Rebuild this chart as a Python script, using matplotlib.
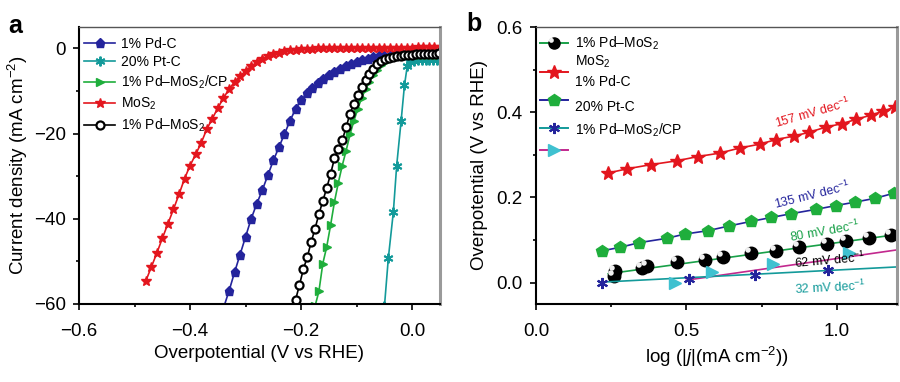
import numpy as np
import matplotlib
matplotlib.use('Agg')
import matplotlib.pyplot as plt
from matplotlib.ticker import MultipleLocator
from matplotlib.path import Path

plt.rcParams['font.family'] = ['Liberation Sans', 'DejaVu Sans']
plt.rcParams['mathtext.fontset'] = 'custom'
plt.rcParams['mathtext.rm'] = 'Liberation Sans'
plt.rcParams['mathtext.it'] = 'Liberation Sans:italic'
plt.rcParams['mathtext.bf'] = 'Liberation Sans:bold'

# ---------------- Panel a data: polarization curves ----------------
mos2_v = [-0.48, -0.47, -0.46, -0.45, -0.44, -0.43, -0.42, -0.41, -0.40, -0.39, -0.38, -0.37,
          -0.36, -0.35, -0.34, -0.33, -0.32, -0.31, -0.30, -0.29, -0.28, -0.27, -0.26, -0.25,
          -0.24, -0.23, -0.22, -0.21, -0.20, -0.19, -0.18, -0.17, -0.16, -0.15, -0.14, -0.13,
          -0.12, -0.11, -0.10, -0.09, -0.08, -0.07, -0.06, -0.05, -0.04, -0.03, -0.02, -0.01,
          0.00, 0.01, 0.02, 0.03, 0.04, 0.05]
mos2_j = [-54.7, -51.4, -48.1, -44.6, -41.2, -37.8, -34.3, -30.6, -27.5, -24.9, -22.2, -19.0,
          -16.5, -14.0, -11.7, -9.6, -7.9, -6.5, -5.3, -4.2, -3.3, -2.5, -1.9, -1.4,
          -1.0, -0.7, -0.45, -0.3, -0.2, -0.12, -0.06, -0.02, 0.0, 0.02, 0.04, 0.05,
          0.06, 0.07, 0.08, 0.09, 0.10, 0.10, 0.10, 0.10, 0.10, 0.12, 0.14, 0.16,
          0.18, 0.20, 0.22, 0.24, 0.26, 0.28]

pdc_v = [-0.34, -0.33, -0.32, -0.31, -0.30, -0.29, -0.28, -0.27, -0.26, -0.25, -0.24, -0.23,
         -0.22, -0.21, -0.20, -0.19, -0.18, -0.17, -0.16, -0.15, -0.14, -0.13, -0.12, -0.11,
         -0.10, -0.09, -0.08, -0.07, -0.06, -0.05, -0.04, -0.03, -0.02, -0.01, 0.00, 0.01,
         0.02, 0.03, 0.04, 0.05]
pdc_j = [-61.0, -57.0, -52.6, -48.4, -44.2, -40.0, -36.5, -33.3, -29.8, -26.3, -23.2, -20.1,
         -17.0, -14.2, -12.2, -10.6, -9.3, -8.1, -7.1, -6.3, -5.5, -4.8, -4.1, -3.6,
         -3.1, -2.7, -2.4, -2.1, -1.9, -1.8, -1.7, -1.6, -1.55, -1.5, -1.5, -1.45,
         -1.45, -1.4, -1.4, -1.4]

pdmos2_v = [-0.210, -0.203, -0.196, -0.189, -0.182, -0.175, -0.168, -0.161, -0.154, -0.147,
            -0.140, -0.133, -0.126, -0.119, -0.112, -0.105, -0.098, -0.091, -0.084, -0.077,
            -0.070, -0.063, -0.056, -0.049, -0.042, -0.035, -0.028, -0.021, -0.014, -0.007,
            0.000, 0.007, 0.014, 0.021, 0.028, 0.035, 0.042, 0.049]
pdmos2_j = [-59.0, -55.5, -51.8, -49.0, -45.5, -42.3, -38.9, -35.8, -32.8, -29.5,
            -25.8, -23.6, -21.6, -18.5, -15.3, -13.0, -10.9, -9.0, -7.4, -6.0,
            -4.8, -3.7, -3.0, -2.5, -2.2, -1.95, -1.8, -1.7, -1.6, -1.55,
            -1.5, -1.45, -1.4, -1.35, -1.3, -1.3, -1.25, -1.2]

cp_v = [-0.175, -0.168, -0.161, -0.154, -0.147, -0.140, -0.133, -0.126, -0.119, -0.112,
        -0.105, -0.098, -0.091, -0.084, -0.077, -0.070, -0.063, -0.056, -0.049, -0.042,
        -0.035, -0.028, -0.021, -0.014, -0.007, 0.000, 0.007, 0.014, 0.021, 0.028,
        0.035, 0.042, 0.049]
cp_j = [-60.5, -57.0, -50.5, -46.6, -41.5, -36.0, -31.5, -27.5, -24.0, -20.2,
        -17.0, -14.2, -11.6, -9.5, -7.8, -6.3, -5.0, -4.0, -3.2, -2.6,
        -2.2, -1.9, -1.75, -1.65, -1.6, -1.55, -1.5, -1.5, -1.5, -1.5,
        -1.5, -1.5, -1.5]

ptc_v = [-0.050, -0.043, -0.034, -0.028, -0.020, -0.014, -0.009, -0.004, 0.003, 0.010,
         0.017, 0.024, 0.031, 0.038, 0.045, 0.050]
ptc_j = [-60.5, -49.2, -38.4, -27.5, -17.0, -8.7, -4.2, -3.2, -2.9, -2.8,
         -2.8, -2.8, -2.8, -2.8, -2.75, -2.7]

# ---------------- Panel b data: Tafel plots ----------------
mos2_b_x = [0.238, 0.301, 0.382, 0.468, 0.538, 0.610, 0.677, 0.743, 0.799, 0.857, 0.908,
            0.963, 1.016, 1.063, 1.112, 1.152, 1.193]
mos2_b_y = [0.257, 0.267, 0.277, 0.286, 0.296, 0.304, 0.316, 0.325, 0.336, 0.344, 0.353,
            0.365, 0.373, 0.383, 0.393, 0.402, 0.412]
ptc_b_x = [0.221, 0.280, 0.343, 0.434, 0.494, 0.571, 0.641, 0.716, 0.782, 0.849, 0.930,
           0.997, 1.060, 1.127, 1.190]
ptc_b_y = [0.075, 0.083, 0.094, 0.104, 0.114, 0.122, 0.133, 0.144, 0.153, 0.162, 0.172,
           0.181, 0.189, 0.198, 0.210]
pdmos2_b_x = [0.258, 0.262, 0.352, 0.369, 0.469, 0.563, 0.621, 0.716, 0.799, 0.873, 0.966,
              1.032, 1.108, 1.180]
pdmos2_b_y = [0.016, 0.027, 0.035, 0.040, 0.048, 0.053, 0.061, 0.069, 0.075, 0.083, 0.091,
              0.099, 0.106, 0.112]
pdmos2_fit_x = [0.24, 1.20]
pdmos2_fit_y = [0.021, 0.113]
cp_b_x = [0.219, 0.509, 0.727, 0.971]
cp_b_y = [0.000, 0.009, 0.019, 0.030]
cp_fit_x = [0.21, 1.20]
cp_fit_y = [0.001, 0.037]
tri_b_x = [0.463, 0.586, 0.788, 1.041]
tri_b_y = [-0.001, 0.025, 0.044, 0.069]
tri_fit_x = [0.50, 1.20]
tri_fit_y = [0.006, 0.077]

legend_a_labels = ['1% Pd-C', '20% Pt-C', '1% Pd\u2013MoS$_2$/CP', 'MoS$_2$', '1% Pd\u2013MoS$_2$']
legend_b_labels = ['1% Pd\u2013MoS$_2$', 'MoS$_2$', '1% Pd-C', '20% Pt-C', '1% Pd\u2013MoS$_2$/CP']
slope_labels = ['157 mV dec$^{-1}$', '135 mV dec$^{-1}$', '80 mV dec$^{-1}$',
                '62 mV dec$^{-1}$', '32 mV dec$^{-1}$']

# colours
RED = '#e3161e'
NAVY = '#24249c'
TEAL = '#139a9a'
GREEN = '#1fae3c'
BGREEN = '#18a048'
MAGENTA = '#c2288e'
CYAN = '#3fc1d0'

ASTER = (6, 2, 0)
highlight = Path.circle(center=(-0.28, 0.28), radius=0.22)

fig = plt.figure(figsize=(9, 3.82), dpi=100)
axa = fig.add_axes([79 / 900, 78 / 382, 361 / 900, 277 / 382])
axb = fig.add_axes([536 / 900, 78 / 382, 361 / 900, 277 / 382])


def style(ax):
    for s in ['left', 'bottom']:
        ax.spines[s].set_linewidth(1.5)
        ax.spines[s].set_color('black')
    ax.spines['top'].set_linewidth(1.0)
    ax.spines['top'].set_color('#555555')
    ax.spines['right'].set_linewidth(2.2)
    ax.spines['right'].set_color('#9a9a9a')
    ax.tick_params(which='both', direction='out', top=False, right=False,
                   labelsize=13.5, width=1.2, color='black')
    ax.tick_params(which='major', length=4.5)
    ax.tick_params(which='minor', length=2.5)
    ax.tick_params(axis='x', which='major', pad=9)
    ax.tick_params(axis='y', which='major', pad=5)


# ---------------- Panel a ----------------
lw = 1.2
h1, = axa.plot(pdc_v, pdc_j, color=NAVY, lw=lw, marker='p', ms=6.5, mfc=NAVY, mec=NAVY)
h2, = axa.plot(ptc_v, ptc_j, color=TEAL, lw=lw, marker=ASTER, ms=7, mec=TEAL, mew=1.4)
h3, = axa.plot(cp_v, cp_j, color=GREEN, lw=lw, marker='>', ms=6, mfc=GREEN, mec=GREEN)
h4, = axa.plot(mos2_v, mos2_j, color=RED, lw=lw, marker='*', ms=7.5, mfc=RED, mec=RED)
h5, = axa.plot(pdmos2_v, pdmos2_j, color='black', lw=lw, marker='o', ms=5.8, mfc='white',
               mec='black', mew=1.6)
axa.set_xlim(-0.6, 0.05)
axa.set_ylim(-60, 5)
axa.xaxis.set_major_locator(MultipleLocator(0.2))
axa.xaxis.set_minor_locator(MultipleLocator(0.1))
axa.yaxis.set_major_locator(MultipleLocator(20))
axa.yaxis.set_minor_locator(MultipleLocator(10))
style(axa)
axa.set_xlabel('Overpotential (V vs RHE)', fontsize=13.5, labelpad=4)
axa.set_ylabel('Current density (mA cm$^{-2}$)', fontsize=13.5, labelpad=3)
axa.legend([h1, h2, h3, h4, h5], legend_a_labels, loc='upper left', bbox_to_anchor=(-0.012, 1.0),
           frameon=False, fontsize=10, handlelength=2.2, handletextpad=0.4,
           labelspacing=0.33, borderaxespad=0.3, borderpad=0.4)

# ---------------- Panel b ----------------
axb.plot(mos2_b_x, mos2_b_y, color=RED, lw=lw, marker='*', ms=10, mfc=RED, mec=RED)
axb.plot(ptc_b_x, ptc_b_y, color=NAVY, lw=lw, marker='p', ms=9, mfc=GREEN, mec=GREEN)
axb.plot(pdmos2_fit_x, pdmos2_fit_y, color=BGREEN, lw=lw)
axb.plot(pdmos2_b_x, pdmos2_b_y, ls='none', marker='o', ms=9, mfc='black', mec='black')
axb.plot(pdmos2_b_x, pdmos2_b_y, ls='none', marker=highlight, ms=9, mfc='#f0f0f0', mec='none')
axb.plot(tri_fit_x, tri_fit_y, color=MAGENTA, lw=lw)
axb.plot(cp_fit_x, cp_fit_y, color=TEAL, lw=lw)
axb.plot(tri_b_x, tri_b_y, ls='none', marker='>', ms=8, mfc=CYAN, mec=CYAN)
axb.plot(cp_b_x, cp_b_y, ls='none', marker=ASTER, ms=8, mec=NAVY, mew=1.5)

axb.set_xlim(0.0, 1.2)
axb.set_ylim(-0.05, 0.6)
axb.xaxis.set_major_locator(MultipleLocator(0.5))
axb.xaxis.set_minor_locator(MultipleLocator(0.25))
axb.yaxis.set_major_locator(MultipleLocator(0.2))
axb.yaxis.set_minor_locator(MultipleLocator(0.1))
style(axb)
axb.set_xlabel('log (|$j$|(mA cm$^{-2}$))', fontsize=13.5, labelpad=4)
axb.set_ylabel('Overpotential (V vs RHE)', fontsize=13.5, labelpad=6)

# slope annotations
ann = [(0.92, 0.398, 16, RED), (0.919, 0.206, 14, NAVY), (0.96, 0.120, 10, BGREEN),
       (0.979, 0.052, 5, 'black'), (0.977, -0.012, 3, TEAL)]
for (x, y, rot, c), s in zip(ann, slope_labels):
    axb.text(x, y, s, color=c, fontsize=9, rotation=rot, ha='center', va='center',
             rotation_mode='anchor')

# hand-placed legend of panel b (handles and labels offset as in the original)
hx = [0.011, 0.050, 0.089]
handle_specs = [
    (0.942, BGREEN, dict(marker='o', ms=8, mfc='black', mec='black')),
    (0.838, RED, dict(marker='*', ms=10, mfc=RED, mec=RED)),
    (0.736, NAVY, dict(marker='p', ms=9, mfc=GREEN, mec=GREEN)),
    (0.635, TEAL, dict(marker=ASTER, ms=8, mec=NAVY, mew=1.5)),
    (0.556, MAGENTA, dict(marker='>', ms=8, mfc=CYAN, mec=CYAN)),
]
for yy, c, mk in handle_specs:
    axb.plot(hx, [yy] * 3, color=c, lw=1.4, transform=axb.transAxes, clip_on=False,
             markevery=[1], **mk)
axb.plot([hx[1]], [0.942], ls='none', marker=highlight, ms=8, mfc='#f0f0f0', mec='none',
         transform=axb.transAxes, clip_on=False)
label_y = [0.942, 0.874, 0.801, 0.711, 0.628]
for yy, s in zip(label_y, legend_b_labels):
    axb.text(0.108, yy, s, fontsize=10, ha='left', va='center', transform=axb.transAxes)

# panel letters
fig.text(15 / 900, 1 - 26 / 382, 'a', fontsize=18, fontweight='bold', ha='center', va='center')
fig.text(474 / 900, 1 - 24 / 382, 'b', fontsize=18, fontweight='bold', ha='center', va='center')

fig.savefig('out.png', dpi=100)
